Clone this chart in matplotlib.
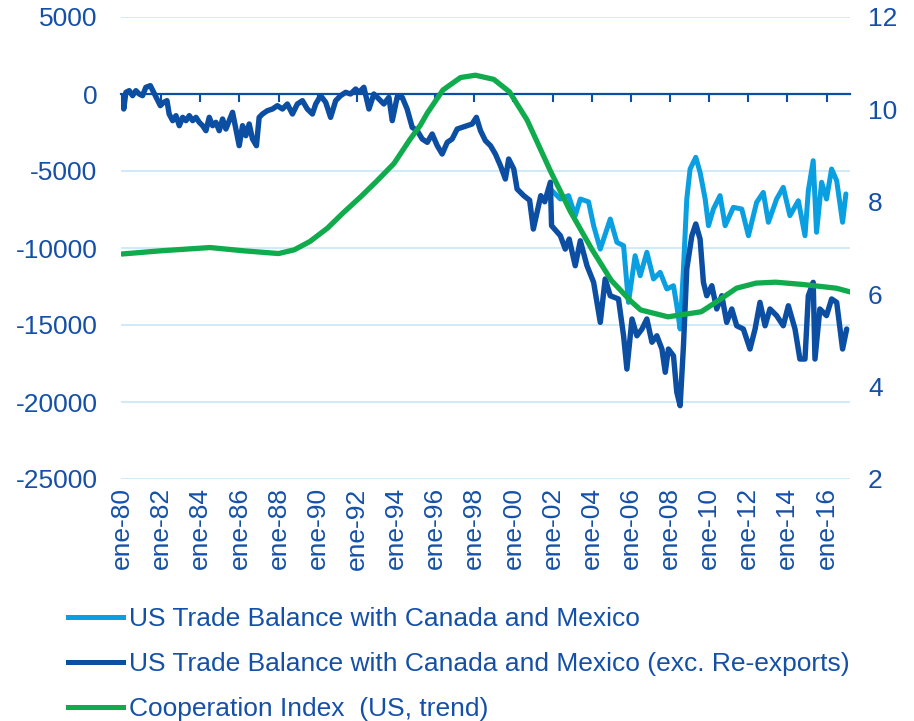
import matplotlib
matplotlib.use("Agg")
import matplotlib.pyplot as plt
from matplotlib.lines import Line2D

# --- data (decimal years) ---
dark_t = [1980.03, 1980.09, 1980.20, 1980.37, 1980.54, 1980.71, 1980.88, 1981.05, 1981.22, 1981.45,
          1981.62, 1981.79, 1981.96, 1982.13, 1982.30, 1982.41, 1982.59, 1982.76, 1982.93, 1983.10,
          1983.27, 1983.44, 1983.61, 1983.78, 1983.95, 1984.12, 1984.29, 1984.46, 1984.63, 1984.80,
          1984.97, 1985.14, 1985.31, 1985.48, 1985.65, 1985.82, 1985.99, 1986.16, 1986.33, 1986.50,
          1986.67, 1986.87, 1987.01, 1987.18, 1987.43, 1987.69, 1987.94, 1988.20, 1988.45, 1988.71,
          1988.96, 1989.22, 1989.47, 1989.73, 1989.90, 1990.15, 1990.41, 1990.66, 1990.92, 1991.17,
          1991.43, 1991.68, 1991.94, 1992.11, 1992.36, 1992.62, 1992.87, 1993.13, 1993.38, 1993.64,
          1993.81, 1994.06, 1994.32, 1994.57, 1994.83, 1995.09, 1995.34, 1995.60, 1995.85, 1996.11,
          1996.36, 1996.62, 1996.87, 1997.13, 1997.38, 1997.64, 1997.89, 1998.11, 1998.32, 1998.57,
          1998.83, 1999.08, 1999.34, 1999.59, 1999.76, 2000.02, 2000.19, 2000.53, 2000.83, 2001.02,
          2001.4, 2001.6, 2001.89, 2001.95, 2002.40, 2002.65,
          2002.85, 2003.16, 2003.42, 2003.76, 2004.10, 2004.44, 2004.69, 2004.95, 2005.37, 2005.63,
          2005.80, 2006.06, 2006.31, 2006.57, 2006.82, 2007.08, 2007.33, 2007.59, 2007.76, 2007.92,
          2008.18, 2008.35, 2008.52, 2008.69, 2008.86, 2009.12, 2009.32, 2009.54, 2009.71, 2009.88,
          2010.14, 2010.39, 2010.65, 2010.90, 2011.16, 2011.41, 2011.75, 2012.09, 2012.35, 2012.60,
          2012.86, 2013.11, 2013.45, 2013.79, 2014.05, 2014.39, 2014.64, 2014.90, 2015.07, 2015.32,
          2015.41, 2015.66, 2016.00, 2016.26, 2016.52, 2016.82, 2017.03]
dark_v = [-108, -974, 108, 217, -108, 217, 0, -108, 433, 541,
          108, -325, -758, -541, -433, -1299, -1732, -1407, -2057, -1516,
          -1732, -1407, -1732, -1516, -1840, -2057, -2382, -1516, -2057, -1840,
          -2382, -1624, -2273, -1732, -1191, -2273, -3356, -2057, -2706, -1949,
          -2923, -3356, -1516, -1299, -1083, -974, -758, -974, -650, -1299,
          -650, -433, -974, -1299, -650, -108, -541, -1516, -433, -108,
          108, 0, 325, 108, 433, -974, 0, -325, -650, -217,
          -1732, -217, -217, -974, -2165, -2382, -2923, -3139, -2598, -3356,
          -3897, -3139, -2923, -2273, -2165, -2057, -1949, -1516, -2382, -3031,
          -3356, -3897, -4655, -5521, -4222, -4871, -6170, -6603, -6900, -8770,
          -6600, -7000, -5730, -8550, -9200, -10070,
          -9420, -11150, -9530, -11150, -12230, -14830, -12010, -13100, -13310, -15700,
          -17860, -14610, -15700, -15260, -14610, -16120, -15700, -16560, -18070, -16560,
          -17000, -19370, -20240, -16350, -11360, -9200, -8440, -9420, -12230, -13100,
          -12450, -13960, -13100, -14830, -13960, -15050, -15260, -16560, -15260, -13530,
          -15050, -13960, -14390, -15050, -13750, -15260, -17210, -17210, -13100, -12230,
          -17210, -13960, -14390, -13310, -13530, -16560, -15260]

light_t = [2001.89, 2002.40, 2002.82, 2003.16, 2003.42, 2003.84, 2004.10, 2004.44, 2004.95, 2005.29,
           2005.63, 2005.88, 2006.22, 2006.48, 2006.82, 2007.16, 2007.50, 2007.84, 2008.18, 2008.35,
           2008.52, 2008.69, 2008.86, 2009.03, 2009.32, 2009.54, 2009.80, 2009.97, 2010.22, 2010.56,
           2010.82, 2011.24, 2011.67, 2012.01, 2012.43, 2012.77, 2013.03, 2013.45, 2013.79, 2014.13,
           2014.56, 2014.90, 2015.07, 2015.32, 2015.49, 2015.75, 2016.00, 2016.26, 2016.52, 2016.82,
           2016.99]
light_v = [-6170, -6820, -6600, -7900, -6820, -7000, -8550, -10070, -8120, -9630,
           -9850, -13530, -10500, -11800, -10280, -12010, -11580, -12660, -12450, -13750,
           -15260, -11360, -6820, -4870, -4110, -5090, -6820, -8550, -7470, -6600,
           -8550, -7360, -7470, -9200, -7030, -6390, -8330, -6820, -6060, -7900,
           -6930, -9200, -6280, -4330, -8980, -5730, -6820, -4870, -5630, -8330,
           -6490]

coop_t = [1980.0, 1982.0, 1984.5, 1986.2, 1988.0, 1988.8, 1989.6, 1990.5, 1991.3, 1992.2,
          1993.0, 1993.9, 1994.7, 1995.25, 1995.6, 1996.4, 1997.3, 1998.06, 1999.0, 1999.8,
          2000.7, 2001.9, 2002.9, 2004.0, 2005.0, 2006.0, 2006.5, 2007.9, 2009.6, 2010.5,
          2011.4, 2012.4, 2013.4, 2014.8, 2016.5, 2017.2]
coop_v = [6.87, 6.94, 7.01, 6.94, 6.88, 6.96, 7.14, 7.43, 7.76, 8.11,
          8.44, 8.83, 9.34, 9.66, 9.92, 10.42, 10.69, 10.74, 10.65, 10.38,
          9.77, 8.66, 7.80, 6.98, 6.30, 5.85, 5.66, 5.51, 5.62, 5.87,
          6.13, 6.24, 6.26, 6.21, 6.13, 6.05]

tick_years = list(range(1980, 2017, 2))
tick_labels = ["ene-%02d" % (y % 100) for y in tick_years]
left_ticks = [5000, 0, -5000, -10000, -15000, -20000, -25000]
right_ticks = [2, 4, 6, 8, 10, 12]

labels = ["US Trade Balance with Canada and Mexico",
          "US Trade Balance with Canada and Mexico (exc. Re-exports)",
          "Cooperation Index  (US, trend)"]

TXT = "#1550A8"
DARK = "#0B4EA2"
LIGHT = "#0A9FE0"
GREEN = "#10AB4C"
GRID = "#CFEAF8"

plt.rcParams['font.family'] = ['Liberation Sans', 'DejaVu Sans']
FS = 19

fig = plt.figure(figsize=(9.14, 7.21), dpi=100)
ax = fig.add_axes([121 / 914, 1 - 479 / 721, (850 - 121) / 914, (479 - 17) / 721])
ax2 = ax.twinx()

ax.set_xlim(1979.95, 2017.2)
ax.set_ylim(-25000, 5000)
ax2.set_ylim(2, 12)

for s in ax.spines.values():
    s.set_visible(False)
for s in ax2.spines.values():
    s.set_visible(False)

# gridlines (zero is drawn as the axis line)
for v in left_ticks:
    if v != 0:
        ax.axhline(v, color=GRID, lw=1.4, zorder=0)

ax.plot(light_t, light_v, color=LIGHT, lw=3.6, solid_joinstyle='round', solid_capstyle='round', zorder=3)
ax.plot(dark_t, dark_v, color=DARK, lw=3.9, solid_joinstyle='round', solid_capstyle='round', zorder=4)
ax2.plot(coop_t, coop_v, color=GREEN, lw=3.8, solid_capstyle='round', zorder=5)

ax.set_yticks(left_ticks)
ax.set_yticklabels([str(v) for v in left_ticks])
ax.tick_params(axis='y', length=0, pad=17, labelsize=FS, labelcolor=TXT)
ax2.set_yticks(right_ticks)
ax2.tick_params(axis='y', length=0, pad=13, labelsize=FS, labelcolor=TXT)

ax.set_xticks(tick_years)
ax.set_xticklabels(tick_labels, rotation=90)
ax.tick_params(axis='x', length=0, pad=6, labelsize=FS, labelcolor=TXT)

# zero line with downward ticks
sec = ax.secondary_xaxis(5 / 6)
sec.set_alignment('bottom')
sec.set_xticks(tick_years)
sec.tick_params(axis='x', direction='out', length=5.5, width=1.5, color=DARK, labelbottom=False, labeltop=False)
for s in sec.spines.values():
    s.set_color(DARK)
    s.set_linewidth(1.6)

handles = [Line2D([], [], color=LIGHT, lw=3.6),
           Line2D([], [], color=DARK, lw=3.6),
           Line2D([], [], color=GREEN, lw=3.6)]
leg = fig.legend(handles, labels, loc='upper left', bbox_to_anchor=(68 / 914, 1 - 607 / 721),
                 frameon=False, fontsize=FS, handlelength=2.1, handletextpad=0.2,
                 labelspacing=0.8, borderpad=0, borderaxespad=0)
for t in leg.get_texts():
    t.set_color(TXT)

fig.savefig("out.png", dpi=100)
